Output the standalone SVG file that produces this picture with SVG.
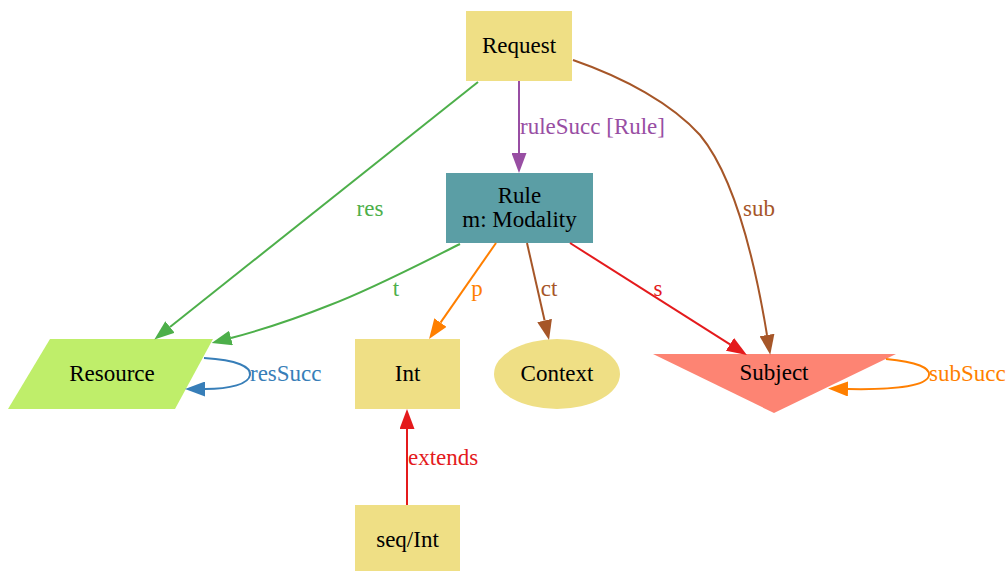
<svg xmlns="http://www.w3.org/2000/svg" width="1008" height="571" viewBox="0 0 1008 571">
  <style>
    text { font-family: "Liberation Serif", "Times New Roman", serif; font-size: 23px; }
    .node { fill: #000; text-anchor: middle; }
    .edge { fill: none; stroke-width: 2; }
    .khaki { fill: #efdf85; }
  </style>
  <defs>
    <marker id="ah-purple" viewBox="0 0 20 15" refX="0" refY="7.5" markerWidth="20" markerHeight="15" markerUnits="userSpaceOnUse" orient="auto"><path d="M0,0 L20,7.5 L0,15 z" fill="#984ea3"/></marker>
    <marker id="ah-green" viewBox="0 0 20 15" refX="0" refY="7.5" markerWidth="20" markerHeight="15" markerUnits="userSpaceOnUse" orient="auto"><path d="M0,0 L20,7.5 L0,15 z" fill="#4daf4a"/></marker>
    <marker id="ah-orange" viewBox="0 0 20 15" refX="0" refY="7.5" markerWidth="20" markerHeight="15" markerUnits="userSpaceOnUse" orient="auto"><path d="M0,0 L20,7.5 L0,15 z" fill="#ff7f00"/></marker>
    <marker id="ah-brown" viewBox="0 0 20 15" refX="0" refY="7.5" markerWidth="20" markerHeight="15" markerUnits="userSpaceOnUse" orient="auto"><path d="M0,0 L20,7.5 L0,15 z" fill="#a65628"/></marker>
    <marker id="ah-red" viewBox="0 0 20 15" refX="0" refY="7.5" markerWidth="20" markerHeight="15" markerUnits="userSpaceOnUse" orient="auto"><path d="M0,0 L20,7.5 L0,15 z" fill="#e41a1c"/></marker>
    <marker id="ah-blue" viewBox="0 0 20 15" refX="0" refY="7.5" markerWidth="20" markerHeight="15" markerUnits="userSpaceOnUse" orient="auto"><path d="M0,0 L20,7.5 L0,15 z" fill="#377eb8"/></marker>
  </defs>

  <rect width="1008" height="571" fill="#ffffff"/>

  <!-- nodes -->
  <g id="node-request">
    <rect class="khaki" x="466" y="11" width="106" height="70"/>
    <text class="node" x="519" y="53">Request</text>
  </g>
  <g id="node-rule">
    <rect x="446" y="173" width="147" height="70" fill="#5b9ea5"/>
    <text class="node" x="519.5" y="203">Rule</text>
    <text class="node" x="519.5" y="227">m: Modality</text>
  </g>
  <g id="node-resource">
    <polygon points="50,339 213,339 175,409 8,409" fill="#bfee6a"/>
    <text class="node" x="112" y="381">Resource</text>
  </g>
  <g id="node-int">
    <rect class="khaki" x="355" y="339" width="105" height="70"/>
    <text class="node" x="407.5" y="381">Int</text>
  </g>
  <g id="node-context">
    <ellipse class="khaki" cx="557" cy="374" rx="63" ry="35"/>
    <text class="node" x="557" y="381">Context</text>
  </g>
  <g id="node-subject">
    <polygon points="653,354 896,354 774,413" fill="#fd8473"/>
    <text class="node" x="774" y="380">Subject</text>
  </g>
  <g id="node-seqint">
    <rect class="khaki" x="355" y="505" width="105" height="70"/>
    <text class="node" x="407.5" y="547">seq/Int</text>
  </g>

  <!-- connectors -->
  <g id="edges">
    <path class="edge" stroke="#984ea3" d="M519,81 L519,153" marker-end="url(#ah-purple)"/>
    <text x="520" y="134" fill="#984ea3">ruleSucc [Rule]</text>

    <path class="edge" stroke="#4daf4a" d="M478,82 L170,327" marker-end="url(#ah-green)"/>
    <text x="370" y="216" fill="#4daf4a" text-anchor="middle">res</text>

    <path class="edge" stroke="#4daf4a" d="M460,244 C420,264 370,290 330,305 C300,317 265,329 231,338" marker-end="url(#ah-green)"/>
    <text x="396" y="296" fill="#4daf4a" text-anchor="middle">t</text>

    <path class="edge" stroke="#ff7f00" d="M496,243 L440.5,322.6" marker-end="url(#ah-orange)"/>
    <text x="477" y="296" fill="#ff7f00" text-anchor="middle">p</text>

    <path class="edge" stroke="#a65628" d="M527,243 L544.6,320.5" marker-end="url(#ah-brown)"/>
    <text x="549" y="296" fill="#a65628" text-anchor="middle">ct</text>

    <path class="edge" stroke="#e41a1c" d="M570,243 L730,344.3" marker-end="url(#ah-red)"/>
    <text x="658" y="296" fill="#e41a1c" text-anchor="middle">s</text>

    <path class="edge" stroke="#a65628" d="M573,60 C625,78 672,104 700,135 C733,175 753,250 767,335" marker-end="url(#ah-brown)"/>
    <text x="759" y="216" fill="#a65628" text-anchor="middle">sub</text>

    <path class="edge" stroke="#377eb8" d="M204,358 C238,360 251,367 250,375 C249,384 230,389 205,389" marker-end="url(#ah-blue)"/>
    <text x="250" y="381" fill="#377eb8">resSucc</text>

    <path class="edge" stroke="#ff7f00" d="M886,359 C918,362 930,368 929,375 C928,385 900,390 848,389" marker-end="url(#ah-orange)"/>
    <text x="929" y="381" fill="#ff7f00">subSucc</text>

    <path class="edge" stroke="#e41a1c" d="M407,505 L407,429" marker-end="url(#ah-red)"/>
    <text x="408" y="465" fill="#e41a1c">extends</text>
  </g>
</svg>
